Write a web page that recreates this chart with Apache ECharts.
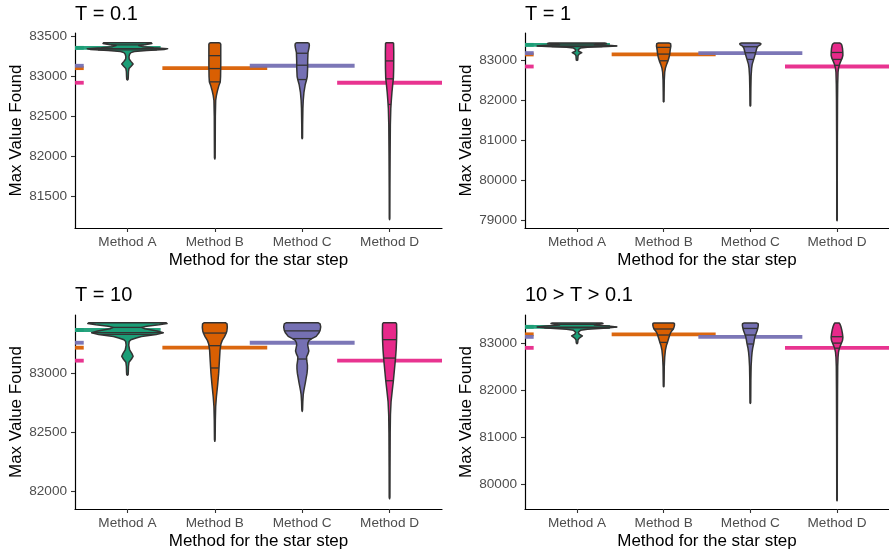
<!DOCTYPE html>
<html>
<head>
<meta charset="utf-8">
<script src="https://cdn.jsdelivr.net/npm/echarts@6/dist/echarts.min.js"></script>
<style>
html,body{margin:0;padding:0;background:#fff;}
#chart{width:889px;height:552px;}
</style>
</head>
<body>
<div id="chart"></div>
<script>
// ---------------- DATA ----------------
const categories = ['Method A', 'Method B', 'Method C', 'Method D'];
const panelTitles = ['T = 0.1', 'T = 1', 'T = 10', '10 > T > 0.1'];
const methodColors = ['#1B9E77', '#D95F02', '#7570B3', '#E7298A'];

// y-axis limits and tick labels per panel
const yLimits_T01 = [81100, 83546];
const yLimits_T1 = [78817, 83675];
const yLimits_T10 = [81851, 83495];
const yLimits_Tmix = [79468, 83596];
const yTicks_T01 = [81500, 82000, 82500, 83000, 83500];
const yTicks_T1 = [79000, 80000, 81000, 82000, 83000];
const yTicks_T10 = [82000, 82500, 83000];
const yTicks_Tmix = [80000, 81000, 82000, 83000];

// mean value of each method per panel (horizontal lines)
const means_T01 = [83360, 83105, 83135, 82922];
const means_T1 = [83380, 83140, 83175, 82840];
const means_T10 = [83368, 83218, 83260, 83108];
const means_Tmix = [83345, 83185, 83130, 82897];

// violin profiles: [value, half-width (density scaled)]
const violin_T01_A = [[83425,0.27],[83415,0.28],[83400,0.2],[83388,0.13],[83375,0.17],[83362,0.3],[83350,0.46],[83340,0.42],[83328,0.22],[83315,0.08],[83300,0.04],[83280,0.025],[83250,0.018],[83220,0.02],[83190,0.04],[83158,0.065],[83125,0.04],[83100,0.018],[83060,0.012],[83000,0.01],[82965,0.008],[82958,0]];
const violin_T01_B = [[83425,0.045],[83418,0.062],[83405,0.068],[83300,0.068],[83150,0.068],[83000,0.066],[82930,0.062],[82880,0.045],[82820,0.03],[82760,0.018],[82700,0.01],[82500,0.006],[82200,0.005],[81980,0.004],[81965,0]];
const violin_T01_C = [[83425,0.06],[83415,0.078],[83395,0.082],[83360,0.078],[83300,0.066],[83200,0.063],[83100,0.062],[83000,0.058],[82960,0.05],[82900,0.035],[82800,0.02],[82700,0.012],[82600,0.008],[82400,0.005],[82230,0.004],[82220,0]];
const violin_T01_D = [[83425,0.035],[83415,0.046],[83300,0.048],[83100,0.047],[82980,0.044],[82900,0.036],[82800,0.027],[82700,0.02],[82600,0.014],[82400,0.009],[82000,0.006],[81600,0.004],[81220,0.003],[81205,0]];

const violin_T1_A = [[83425,0.32],[83415,0.34],[83400,0.25],[83385,0.2],[83365,0.4],[83352,0.46],[83340,0.35],[83320,0.12],[83300,0.04],[83260,0.015],[83220,0.02],[83185,0.055],[83150,0.025],[83110,0.012],[83050,0.01],[83000,0.008],[82992,0]];
const violin_T1_B = [[83425,0.06],[83410,0.08],[83350,0.083],[83250,0.075],[83150,0.07],[83050,0.06],[82980,0.05],[82900,0.035],[82800,0.02],[82700,0.012],[82500,0.007],[82200,0.005],[81970,0.004],[81958,0]];
const violin_T1_C = [[83425,0.1],[83415,0.12],[83400,0.122],[83380,0.115],[83350,0.09],[83300,0.075],[83200,0.063],[83100,0.05],[83000,0.036],[82900,0.022],[82800,0.015],[82600,0.009],[82300,0.006],[81870,0.004],[81855,0]];
const violin_T1_D = [[83425,0.03],[83410,0.045],[83380,0.055],[83300,0.063],[83200,0.067],[83120,0.068],[83050,0.06],[82980,0.045],[82900,0.03],[82800,0.018],[82700,0.012],[82400,0.008],[82000,0.006],[81000,0.004],[80000,0.003],[79020,0.003],[79000,0]];

const violin_T10_A = [[83430,0.44],[83422,0.454],[83412,0.36],[83400,0.22],[83390,0.16],[83378,0.2],[83360,0.34],[83345,0.41],[83330,0.33],[83312,0.16],[83300,0.1],[83285,0.04],[83270,0.02],[83240,0.015],[83200,0.025],[83170,0.05],[83145,0.065],[83120,0.045],[83095,0.018],[83060,0.012],[83010,0.01],[82990,0.008],[82985,0]];
const violin_T10_B = [[83430,0.12],[83420,0.14],[83390,0.143],[83360,0.138],[83340,0.13],[83310,0.11],[83280,0.085],[83250,0.07],[83200,0.06],[83100,0.052],[83000,0.044],[82900,0.032],[82800,0.018],[82720,0.01],[82600,0.006],[82440,0.004],[82425,0]];
const violin_T10_C = [[83430,0.18],[83420,0.205],[83395,0.212],[83365,0.205],[83342,0.19],[83314,0.16],[83295,0.11],[83280,0.08],[83260,0.066],[83240,0.063],[83215,0.07],[83190,0.076],[83165,0.066],[83140,0.05],[83110,0.052],[83070,0.06],[83040,0.06],[83000,0.055],[82960,0.045],[82920,0.036],[82890,0.028],[82850,0.018],[82820,0.012],[82760,0.007],[82690,0.004],[82678,0]];
const violin_T10_D = [[83430,0.07],[83420,0.08],[83350,0.082],[83280,0.08],[83200,0.075],[83130,0.068],[83050,0.058],[82940,0.044],[82850,0.03],[82760,0.017],[82650,0.01],[82500,0.007],[82200,0.005],[81950,0.004],[81938,0]];

const violin_Tmix_A = [[83425,0.29],[83415,0.30],[83400,0.24],[83385,0.2],[83360,0.36],[83340,0.46],[83320,0.35],[83295,0.12],[83270,0.04],[83230,0.015],[83190,0.025],[83150,0.062],[83110,0.03],[83070,0.012],[83000,0.008],[82985,0]];
const violin_Tmix_B = [[83425,0.11],[83415,0.124],[83380,0.125],[83340,0.12],[83300,0.112],[83250,0.09],[83200,0.075],[83170,0.07],[83100,0.058],[83013,0.044],[82950,0.032],[82850,0.02],[82700,0.012],[82500,0.007],[82200,0.005],[82080,0.004],[82070,0]];
const violin_Tmix_C = [[83425,0.075],[83410,0.09],[83380,0.092],[83330,0.088],[83260,0.078],[83200,0.066],[83150,0.055],[83060,0.045],[82980,0.038],[82900,0.028],[82800,0.02],[82700,0.015],[82500,0.009],[82200,0.006],[81900,0.005],[81730,0.004],[81715,0]];
const violin_Tmix_D = [[83425,0.025],[83400,0.035],[83350,0.045],[83280,0.055],[83200,0.063],[83120,0.068],[83060,0.064],[83000,0.052],[82940,0.038],[82870,0.025],[82800,0.017],[82700,0.012],[82500,0.008],[82000,0.006],[81000,0.004],[80000,0.003],[79660,0.003],[79645,0]];

// quantile lines (25%, 50%, 75%)
const quant_T01 = [[83335,83350,83398],[82933,83100,83262],[82962,83142,83292],[82650,82971,83196]];
const quant_T1 = [[83335,83352,83398],[82983,83150,83317],[83017,83183,83333],[82870,83017,83190]];
const quant_T10 = [[83330,83345,83390],[83046,83235,83342],[83122,83295,83360],[82938,83130,83286]];
const quant_Tmix = [[83325,83340,83395],[83013,83170,83298],[82979,83170,83310],[82890,82998,83134]];

// ---------------- BUILD ----------------
const panels = [
  {title: panelTitles[0], lim: yLimits_T01, ticks: yTicks_T01, means: means_T01, violins: [violin_T01_A, violin_T01_B, violin_T01_C, violin_T01_D], quants: quant_T01},
  {title: panelTitles[1], lim: yLimits_T1, ticks: yTicks_T1, means: means_T1, violins: [violin_T1_A, violin_T1_B, violin_T1_C, violin_T1_D], quants: quant_T1},
  {title: panelTitles[2], lim: yLimits_T10, ticks: yTicks_T10, means: means_T10, violins: [violin_T10_A, violin_T10_B, violin_T10_C, violin_T10_D], quants: quant_T10},
  {title: panelTitles[3], lim: yLimits_Tmix, ticks: yTicks_Tmix, means: means_Tmix, violins: [violin_Tmix_A, violin_Tmix_B, violin_Tmix_C, violin_Tmix_D], quants: quant_Tmix}
];

const FONT = 'Liberation Sans, Arial, Helvetica, sans-serif';
const grids = [
  {left: 75, top: 33, width: 367, height: 195},
  {left: 525, top: 33, width: 367, height: 195},
  {left: 75, top: 315, width: 367, height: 194},
  {left: 525, top: 315, width: 367, height: 194}
];
const titlePos = [{left: 75, top: 4}, {left: 525, top: 4}, {left: 75, top: 285}, {left: 525, top: 285}];

function interpHW(prof, q) {
  for (let i = 0; i < prof.length - 1; i++) {
    const a = prof[i], b = prof[i + 1];
    if ((q <= a[0] && q >= b[0])) {
      const t = (a[0] - q) / (a[0] - b[0] || 1);
      return a[1] + (b[1] - a[1]) * t;
    }
  }
  return 0;
}

const xAxes = [], yAxes = [], series = [], titles = [];
panels.forEach((p, pi) => {
  titles.push({text: p.title, left: titlePos[pi].left, top: titlePos[pi].top, padding: 0,
    textStyle: {fontSize: 20, fontWeight: 'normal', color: '#000', fontFamily: FONT}});
  xAxes.push({
    gridIndex: pi, type: 'value', min: 0.4, max: 4.6,
    name: 'Method for the star step', nameLocation: 'middle', nameGap: 24,
    nameTextStyle: {fontSize: 17, color: '#000', fontFamily: FONT},
    axisLine: {show: true, onZero: false, lineStyle: {color: '#000', width: 1.2}},
    axisTick: {show: true, length: 4, customValues: [1, 2, 3, 4], lineStyle: {color: '#333', width: 1.1}},
    axisLabel: {customValues: [1, 2, 3, 4], margin: 7, fontSize: 13.6, color: '#4D4D4D', fontFamily: FONT,
      formatter: v => categories[Math.round(v) - 1] || ''},
    splitLine: {show: false}
  });
  yAxes.push({
    gridIndex: pi, type: 'value', min: p.lim[0], max: p.lim[1],
    name: 'Max Value Found', nameLocation: 'middle', nameGap: 50,
    nameTextStyle: {fontSize: 17, color: '#000', fontFamily: FONT},
    axisLine: {show: true, onZero: false, lineStyle: {color: '#000', width: 1.2}},
    axisTick: {show: true, length: 4, customValues: p.ticks, lineStyle: {color: '#333', width: 1.1}},
    axisLabel: {customValues: p.ticks, margin: 8, fontSize: 13.6, color: '#4D4D4D', fontFamily: FONT,
      formatter: v => String(Math.round(v))},
    splitLine: {show: false}
  });
  // mean lines
  series.push({
    type: 'custom', xAxisIndex: pi, yAxisIndex: pi, z: 2, silent: true,
    data: p.means.map((m, k) => [k + 1, m]),
    renderItem: (params, api) => {
      const k = params.dataIndex;
      const m = p.means[k];
      const x0 = k === 0 ? 0.4 : k + 1 - 0.6;
      const x1 = k === 0 ? 1.38 : k + 1 + 0.6;
      const a = api.coord([x0, m]), b = api.coord([x1, m]);
      const s0 = api.coord([0.4, m]), s1 = api.coord([0.5, m]);
      const st = {stroke: methodColors[k], lineWidth: 3.8, opacity: 0.95};
      return {type: 'group', children: [
        {type: 'line', shape: {x1: a[0], y1: a[1], x2: b[0], y2: b[1]}, style: st},
        {type: 'line', shape: {x1: s0[0], y1: s0[1], x2: s1[0], y2: s1[1]}, style: st}
      ]};
    }
  });
  // violins
  series.push({
    type: 'custom', xAxisIndex: pi, yAxisIndex: pi, z: 3, silent: true,
    data: p.means.map((m, k) => [k + 1, m]),
    renderItem: (params, api) => {
      const k = params.dataIndex;
      const cx = k + 1;
      const prof = p.violins[k];
      const pts = [];
      prof.forEach(([y, hw]) => pts.push(api.coord([cx + hw, y])));
      for (let i = prof.length - 1; i >= 0; i--) pts.push(api.coord([cx - prof[i][1], prof[i][0]]));
      const children = [{type: 'polygon', shape: {points: pts},
        style: {fill: methodColors[k], stroke: '#333333', lineWidth: 1.5, lineJoin: 'round'}}];
      p.quants[k].forEach(q => {
        const hw = interpHW(prof, q);
        const a = api.coord([cx - hw, q]), b = api.coord([cx + hw, q]);
        children.push({type: 'line', shape: {x1: a[0], y1: a[1], x2: b[0], y2: b[1]},
          style: {stroke: '#333333', lineWidth: 1.3}});
      });
      return {type: 'group', children};
    }
  });
});

const chart = echarts.init(document.getElementById('chart'), null, {renderer: 'canvas'});
chart.setOption({
  animation: false,
  backgroundColor: '#fff',
  title: titles,
  grid: grids,
  xAxis: xAxes,
  yAxis: yAxes,
  series: series
});
</script>
</body>
</html>
